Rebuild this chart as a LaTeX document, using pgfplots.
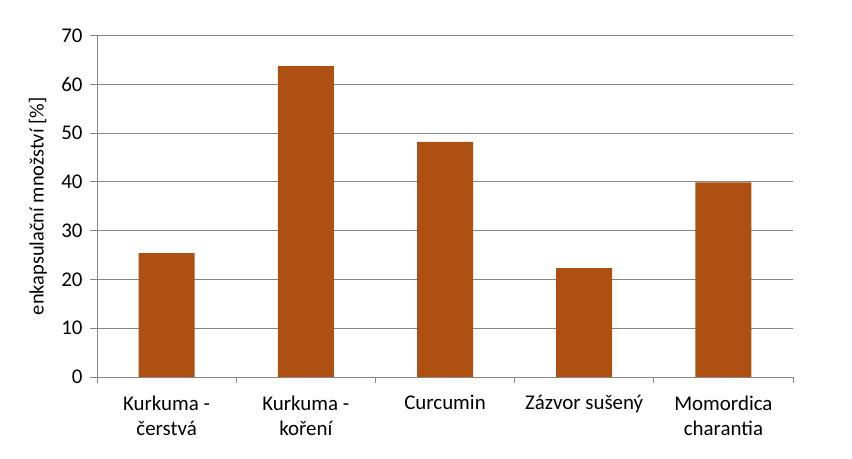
\documentclass[border=0pt]{standalone}
\usepackage{pgfplots}
\pgfplotsset{compat=1.18}
\usepackage{fontspec}
\setmainfont{Carlito}
\definecolor{barc}{RGB}{174,80,18}
\definecolor{gridc}{RGB}{134,134,134}
\begin{document}
\begin{tikzpicture}[x=1bp,y=1bp]
\useasboundingbox (-97,-82) rectangle (755,377);
\begin{axis}[
  at={(0,0)}, anchor=south west,
  scale only axis, width=696bp, height=341.5bp,
  xmin=-0.5, xmax=4.5, ymin=0, ymax=70,
  ytick={0,10,...,70},
  xtick={0,1,2,3,4},
  xticklabels={Kurkuma -\\čerstvá, Kurkuma -\\koření, Curcumin, Zázvor sušený, Momordica\\charantia},
  minor xtick={-0.5,0.5,1.5,2.5,3.5,4.5},
  major x tick style={draw=none},
  tick align=outside, major tick length=7bp, minor tick length=6bp,
  xtick pos=bottom, ytick pos=left,
  tick style={gridc, line width=0.75pt},
  ymajorgrids, major grid style={gridc, line width=0.75pt},
  axis x line*=bottom, axis y line*=left,
  axis line style={-, gridc, line width=0.75pt},
  ticklabel style={font=\fontsize{21}{26}\selectfont, black},
  xticklabel style={align=center, anchor=north, yshift=-8bp},
  yticklabel style={xshift=-4bp},
  /pgf/number format/assume math mode=true,
  ylabel={enkapsulační množství [\%]},
  ylabel style={font=\fontsize{20.5}{24}\selectfont, at={(axis description cs:-0.0848,0.5)}, anchor=center},
  ybar, bar width=56bp,
]
\addplot[fill=barc, draw=none] coordinates {(0,25.4) (1,63.7) (2,48.2) (3,22.3) (4,39.9)};
\end{axis}
\end{tikzpicture}
\end{document}
